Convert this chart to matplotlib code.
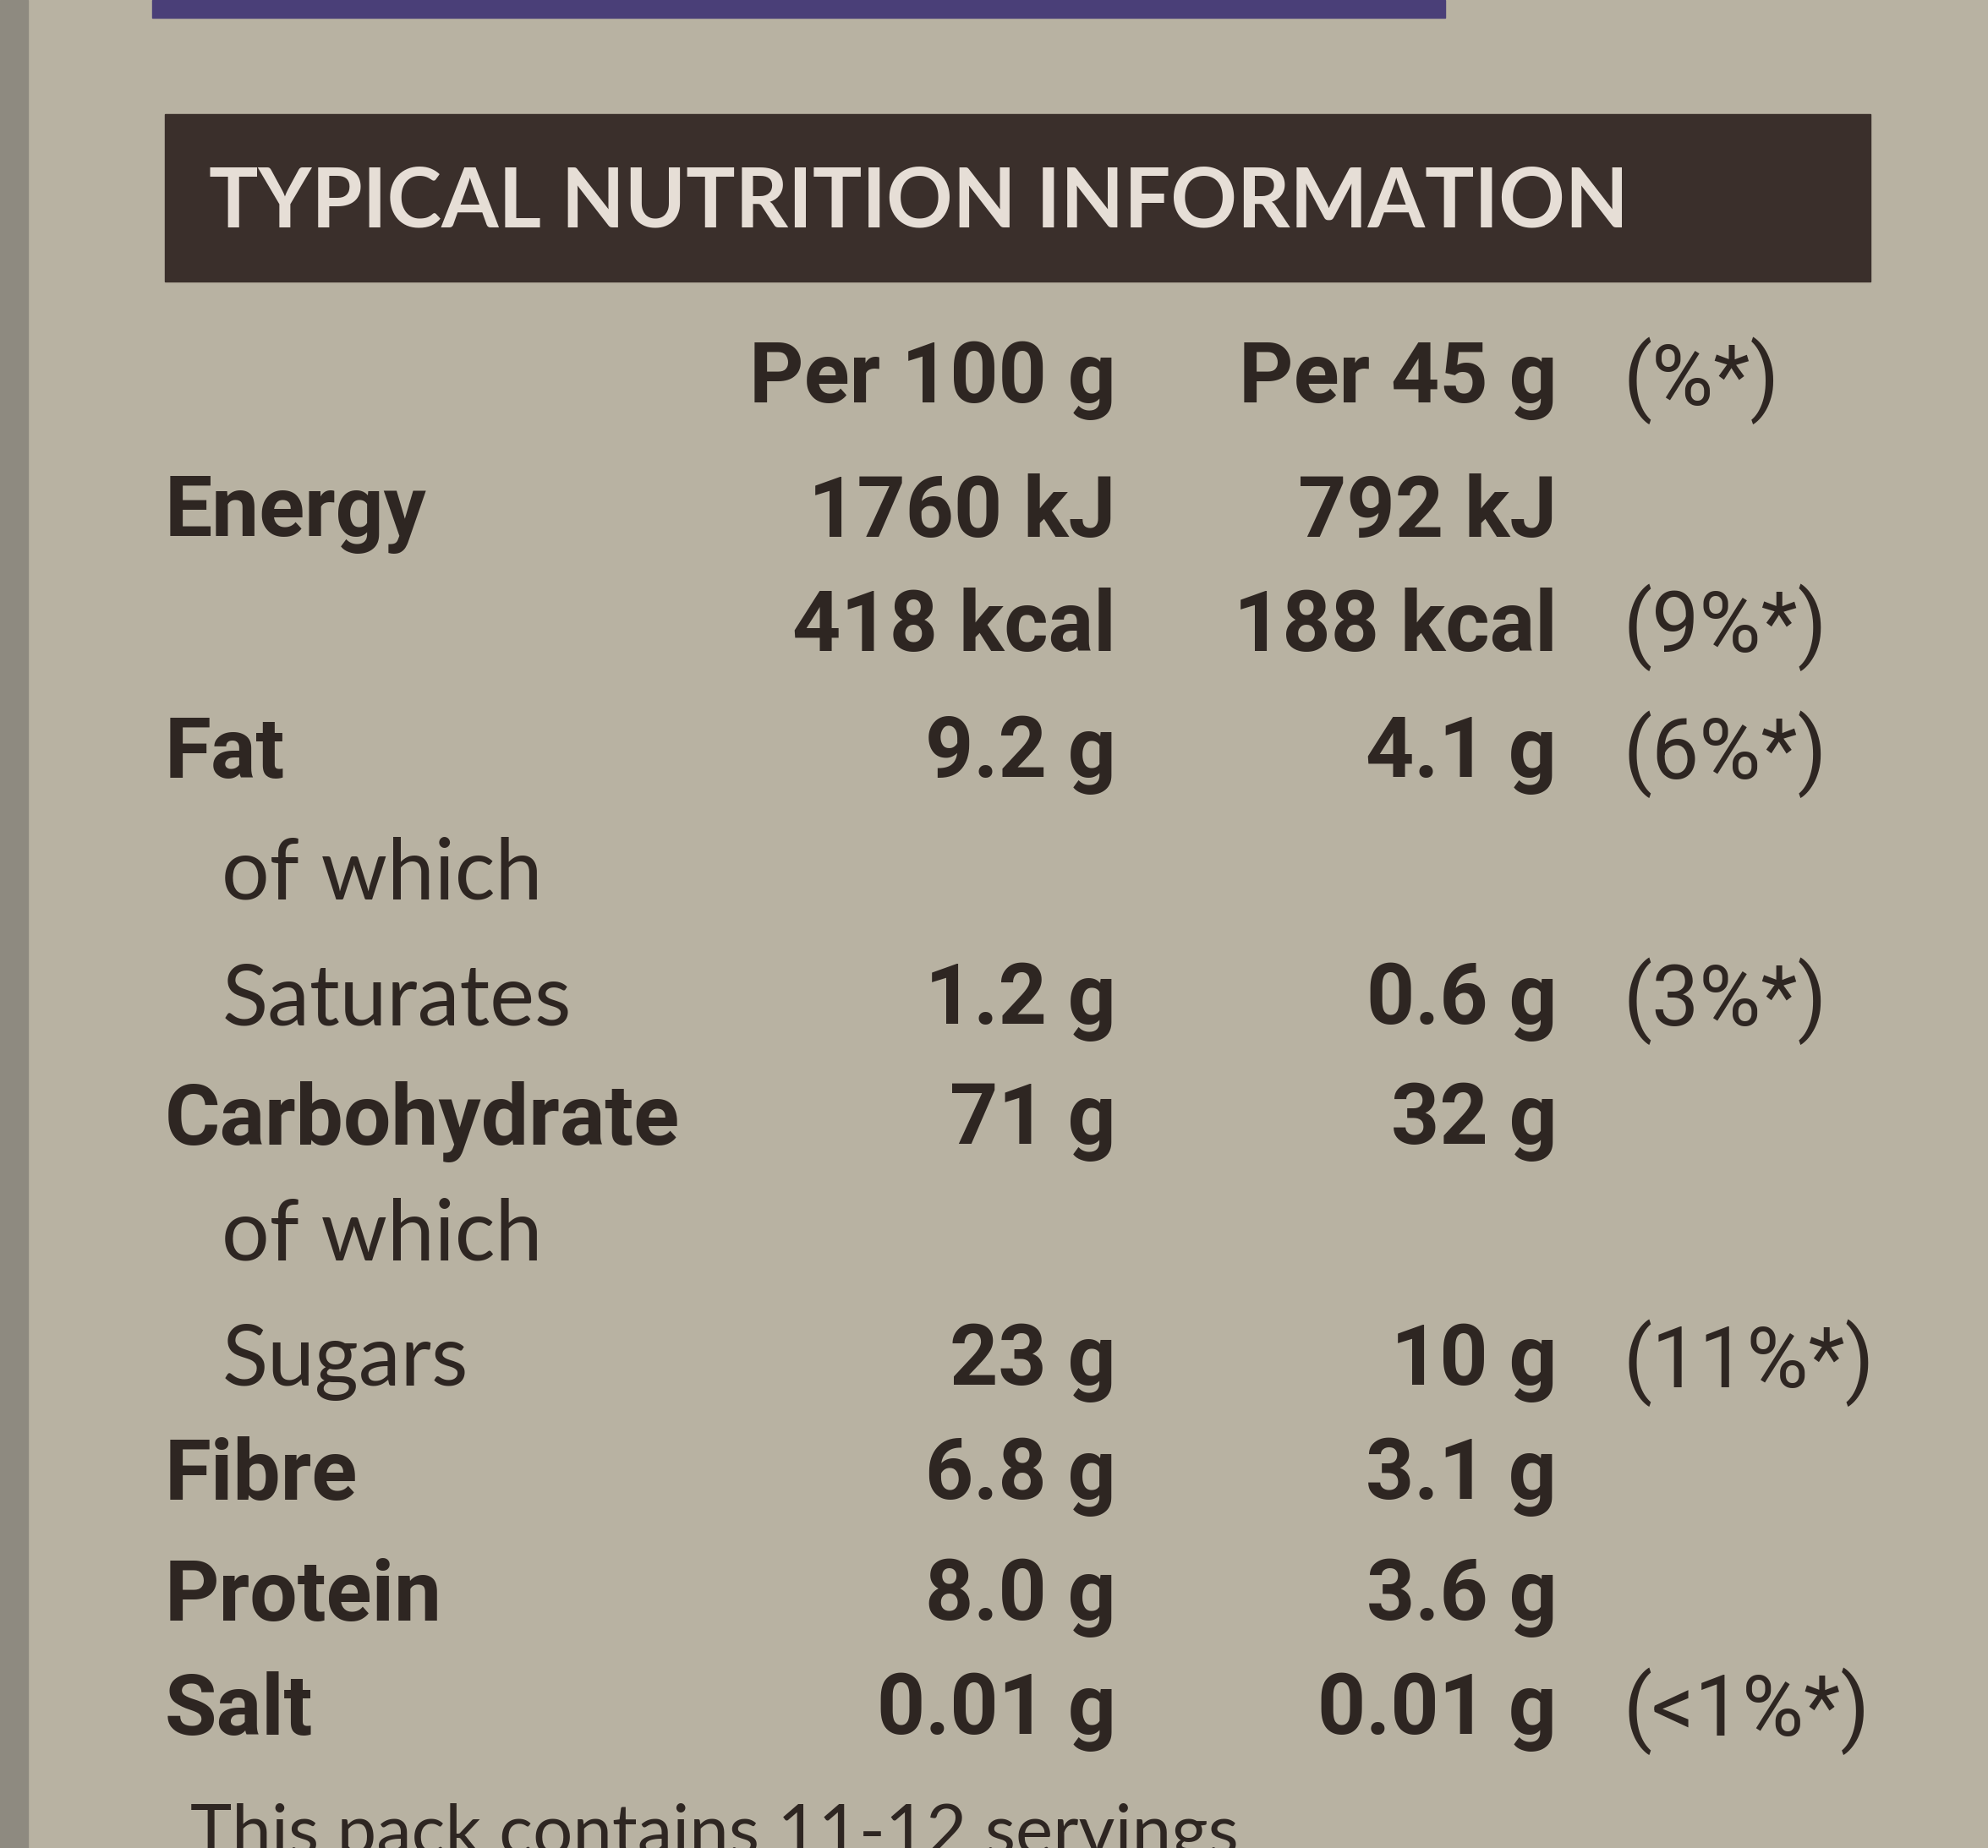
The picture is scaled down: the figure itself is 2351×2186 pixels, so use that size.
import matplotlib.pyplot as plt
from matplotlib.patches import Rectangle

title = "TYPICAL NUTRITION INFORMATION"
col_heads = ["Per 100 g", "Per 45 g", "(%*)"]
labels = ["Energy", "", "Fat", "of which", "Saturates", "Carbohydrate",
          "of which", "Sugars", "Fibre", "Protein", "Salt"]
bold = [True, False, True, False, False, True, False, False, True, True, True]
indent = [False, False, False, True, True, False, True, True, False, False, False]
per100 = ["1760 kJ", "418 kcal", "9.2 g", "", "1.2 g", "71 g", "", "23 g",
          "6.8 g", "8.0 g", "0.01 g"]
per45 = ["792 kJ", "188 kcal", "4.1 g", "", "0.6 g", "32 g", "", "10 g",
         "3.1 g", "3.6 g", "0.01 g"]
pct = ["", "(9%*)", "(6%*)", "", "(3%*)", "", "", "(11%*)", "", "", "(<1%*)"]
row_y = [405, 495, 595, 690, 790, 885, 975, 1075, 1165, 1260, 1350]
footer = "This pack contains 11-12 servings"

fam = ["DejaVu Sans Condensed", "Liberation Sans Narrow", "Roboto", "DejaVu Sans"]
ink = "#2e2622"
fig = plt.figure(figsize=(23.51, 21.86), dpi=100)
fig.patch.set_facecolor("#b8b2a2")
ax = fig.add_axes([0, 0, 1, 1])
ax.set_xlim(0, 1568)
ax.set_ylim(1458, 0)
ax.axis("off")

# edges of the box
ax.add_patch(Rectangle((0, 0), 22, 1458, color="#8e8a80"))
ax.add_patch(Rectangle((120, 0), 1020, 14, color="#4a3f78"))
ax.add_patch(Rectangle((130, 90), 1345, 132, color="#3a2f2b"))
ax.text(165, 160, title, color="#e6ded6", fontsize=70, fontweight="bold",
        family=["Lato", "DejaVu Sans"], va="center", ha="left")

fs = 72
ax.text(880, 300, col_heads[0], ha="right", va="center", fontsize=fs,
        fontweight="bold", family=fam, color=ink)
ax.text(1228, 300, col_heads[1], ha="right", va="center", fontsize=fs,
        fontweight="bold", family=fam, color=ink)
ax.text(1280, 300, col_heads[2], ha="left", va="center", fontsize=fs,
        family=fam, color=ink)

for i, y in enumerate(row_y):
    x = 175 if indent[i] else 130
    ax.text(x, y, labels[i], ha="left", va="center", fontsize=fs,
            fontweight="bold" if bold[i] else "normal",
            family=fam if bold[i] else ["Lato", "DejaVu Sans"], color=ink)
    ax.text(880, y, per100[i], ha="right", va="center", fontsize=fs,
            fontweight="bold", family=fam, color=ink)
    ax.text(1228, y, per45[i], ha="right", va="center", fontsize=fs,
            fontweight="bold", family=fam, color=ink)
    ax.text(1280, y, pct[i], ha="left", va="center", fontsize=fs,
            family=fam, color=ink)

ax.text(150, 1448, footer, ha="left", va="center", fontsize=60,
        family=["Lato", "DejaVu Sans"], color=ink)

fig.savefig("out.png", dpi=100, facecolor=fig.get_facecolor())
